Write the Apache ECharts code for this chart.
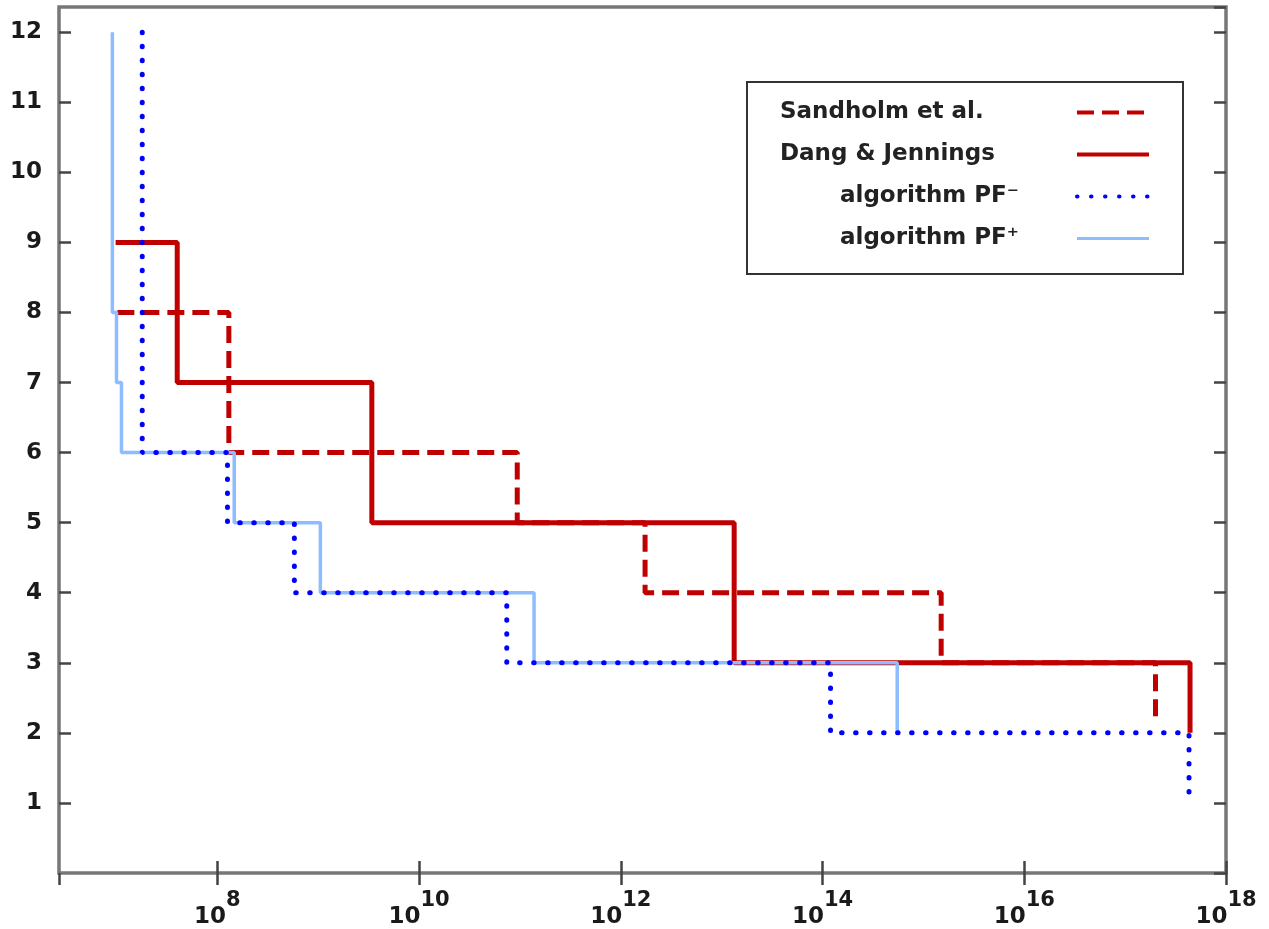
<!DOCTYPE html>
<html>
<head>
<meta charset="utf-8">
<script src="https://cdn.jsdelivr.net/npm/echarts@6/dist/echarts.min.js"></script>
<style>html,body{margin:0;padding:0;background:#fff}#c{width:1269px;height:929px}</style>
</head>
<body>
<div id="c"></div>
<script>
// ---- data (x = problem size on log scale, y = value) ----
const seriesNames = ["Sandholm et al.", "Dang & Jennings", "algorithm PF\u207B", "algorithm PF\u207A"];
const sandholmX = [1.02e7, 1.3e8, 1.3e8, 9.4e10, 9.4e10, 1.74e12, 1.74e12, 1.5e15, 1.5e15, 2.0e17, 2.0e17];
const sandholmY = [8, 8, 6, 6, 5, 5, 4, 4, 3, 3, 2.15];
const dangX = [9.8e6, 4.0e7, 4.0e7, 3.4e9, 3.4e9, 1.33e13, 1.33e13, 4.4e17, 4.4e17];
const dangY = [9, 9, 7, 7, 5, 5, 3, 3, 2];
const pfMinusX = [1.8e7, 1.8e7, 1.26e8, 1.26e8, 5.8e8, 5.8e8, 7.4e10, 7.4e10, 1.2e14, 1.2e14, 4.3e17, 4.3e17];
const pfMinusY = [12, 6, 6, 5, 5, 4, 4, 3, 3, 2, 2, 1];
const pfPlusX = [9.1e6, 9.1e6, 1.0e7, 1.0e7, 1.12e7, 1.12e7, 1.47e8, 1.47e8, 1.05e9, 1.05e9, 1.38e11, 1.38e11, 5.5e14, 5.5e14];
const pfPlusY = [12, 8, 8, 7, 7, 6, 6, 5, 5, 4, 4, 3, 3, 2];
const yTicks = [1, 2, 3, 4, 5, 6, 7, 8, 9, 10, 11, 12];
const xTickExponents = [8, 10, 12, 14, 16, 18];

function pairs(xs, ys) { return xs.map((x, i) => [x, ys[i]]); }

const FONT = 'DejaVu Sans';
const AXIS_GRAY = '#777';
const TICK = { show: true, inside: true, length: 12, lineStyle: { color: '#444', width: 2.5 } };
const xMin = Math.pow(10, 6.43), xMax = 1e18;

const chart = echarts.init(document.getElementById('c'), null, { renderer: 'canvas' });
// log axis with base 100: one tick every 100x (= every 2 decades), ticks at even powers of ten
const xAxisBase = {
  type: 'log', logBase: 100, min: xMin, max: xMax,
  axisLine: { show: false }, splitLine: { show: false }, minorTick: { show: false },
  axisTick: TICK
};
const yAxisBase = {
  type: 'value', min: 0, max: 12.36, interval: 1,
  axisLine: { show: false }, splitLine: { show: false },
  axisTick: TICK
};
chart.setOption({
  animation: false,
  backgroundColor: '#fff',
  grid: { left: 59, right: 43, top: 7, bottom: 56, show: true, borderColor: AXIS_GRAY, borderWidth: 3.5, backgroundColor: 'transparent' },
  xAxis: [
    Object.assign({}, xAxisBase, {
      position: 'bottom',
      axisLabel: {
        show: true, margin: 17, showMinLabel: false, showMaxLabel: true,
        formatter: function (v) {
          const e = Math.round(Math.log10(v));
          if (xTickExponents.indexOf(e) < 0) return '';
          return '{b|10}{s|' + e + '}';
        },
        rich: {
          b: { fontFamily: FONT, fontSize: 23, fontWeight: 'bold', color: '#1a1a1a', lineHeight: 39, verticalAlign: 'bottom' },
          s: { fontFamily: FONT, fontSize: 21, fontWeight: 'bold', color: '#1a1a1a', lineHeight: 16, verticalAlign: 'top' }
        }
      }
    }),
    Object.assign({}, xAxisBase, { position: 'top', axisLabel: { show: false } })
  ],
  yAxis: [
    Object.assign({}, yAxisBase, {
      position: 'left',
      axisLabel: {
        show: true, margin: 17, showMinLabel: false, showMaxLabel: false,
        fontFamily: FONT, fontSize: 23, fontWeight: 'bold', color: '#1a1a1a',
        formatter: function (v) { return yTicks.indexOf(v) >= 0 ? String(v) : ''; }
      }
    }),
    Object.assign({}, yAxisBase, { position: 'right', axisLabel: { show: false } })
  ],
  legend: {
    show: true, orient: 'vertical', left: 747, top: 82, align: 'right',
    padding: [19, 32, 24, 33],
    backgroundColor: '#fff', borderColor: '#333', borderWidth: 2,
    itemWidth: 72, itemHeight: 20, itemGap: 19,
    itemStyle: { opacity: 0 },
    data: [
      { name: seriesNames[0], lineStyle: { width: 4 } },
      { name: seriesNames[1], lineStyle: { width: 4 } },
      { name: seriesNames[2], lineStyle: { width: 4 } },
      { name: seriesNames[3], lineStyle: { width: 3 } }
    ],
    formatter: function (n) {
      const idx = seriesNames.indexOf(n);
      return (idx < 2 ? '{w|' : '{n|') + n + '}';
    },
    textStyle: {
      fontFamily: FONT, fontSize: 23, fontWeight: 'bold', color: '#222',
      rich: {
        w: { fontFamily: FONT, fontSize: 23, fontWeight: 'bold', color: '#222', width: 292, align: 'left', lineHeight: 20 },
        n: { fontFamily: FONT, fontSize: 23, fontWeight: 'bold', color: '#222', width: 232, align: 'left', lineHeight: 20 }
      }
    }
  },
  series: [
    { name: seriesNames[0], type: 'line', data: pairs(sandholmX, sandholmY), symbol: 'none', xAxisIndex: 0, yAxisIndex: 0,
      lineStyle: { color: '#c00000', width: 5, type: [17, 8] }, itemStyle: { color: '#c00000' } },
    { name: seriesNames[1], type: 'line', data: pairs(dangX, dangY), symbol: 'none', xAxisIndex: 0, yAxisIndex: 0,
      lineStyle: { color: '#c00000', width: 5, type: 'solid' }, itemStyle: { color: '#c00000' } },
    { name: seriesNames[3], type: 'line', data: pairs(pfPlusX, pfPlusY), symbol: 'none', xAxisIndex: 0, yAxisIndex: 0,
      lineStyle: { color: '#8dbdff', width: 3.5, type: 'solid' }, itemStyle: { color: '#8dbdff' } },
    { name: seriesNames[2], type: 'line', data: pairs(pfMinusX, pfMinusY), symbol: 'none', xAxisIndex: 0, yAxisIndex: 0,
      lineStyle: { color: '#0000ff', width: 5, type: [0.5, 13.5], cap: 'round' }, itemStyle: { color: '#0000ff' } }
  ]
});
</script>
</body>
</html>
